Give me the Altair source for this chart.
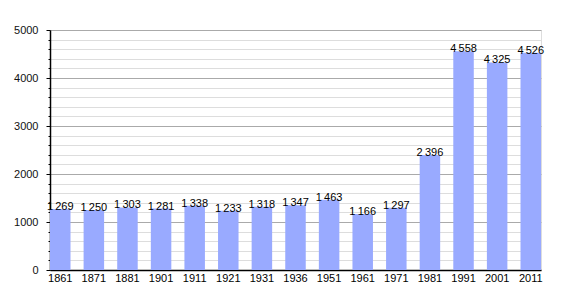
import altair as alt
import pandas as pd

years = ["1861", "1871", "1881", "1901", "1911", "1921", "1931", "1936", "1951",
         "1961", "1971", "1981", "1991", "2001", "2011"]
population = [1269, 1250, 1303, 1281, 1338, 1233, 1318, 1347, 1463,
              1166, 1297, 2396, 4558, 4325, 4526]

df = pd.DataFrame({
    "year": years,
    "pop": population,
    "label": [f"{v:,}".replace(",", "\u2009") for v in population],
})

FONT = "Liberation Sans"
major = "datum.value % 1000 === 0"

x = alt.X("year:N", sort=None, title=None,
          scale=alt.Scale(paddingInner=0.39, paddingOuter=0),
          axis=alt.Axis(labelAngle=0, ticks=False, labelPadding=2, labelFontSize=11,
                        labelFont=FONT, labelColor="black", domainColor="black",
                        domainWidth=1.5))
y = alt.Y("pop:Q", title=None,
          scale=alt.Scale(domain=[0, 5000], nice=False),
          axis=alt.Axis(values=list(range(0, 5001, 200)), format="d",
                        labelExpr=f"{major} ? datum.label : ''",
                        labelOverlap=False, labelFontSize=11, labelFont=FONT,
                        labelColor="#111111", labelPadding=8,
                        domainColor="black", domainWidth=1.5,
                        tickColor="black",
                        tickSize={"condition": {"test": major, "value": 4}, "value": 2},
                        gridColor={"condition": {"test": major, "value": "#aaaaaa"}, "value": "#dddddd"},
                        grid=True))

base = alt.Chart(df).encode(x=x, y=y)
bars = base.mark_bar(color="#99aaff")
text = base.mark_text(baseline="alphabetic", dy=1, fontSize=11, font=FONT,
                      color="black").encode(text="label:N")

chart = (bars + text).properties(
    width=491, height=240,
    autosize=alt.AutoSizeParams(type="none"),
    padding={"left": 50, "top": 30, "right": 29, "bottom": 30},
).configure_view(stroke=None).configure(background="white")

chart.save("out.html", embed_options={"renderer": "svg", "actions": False})
